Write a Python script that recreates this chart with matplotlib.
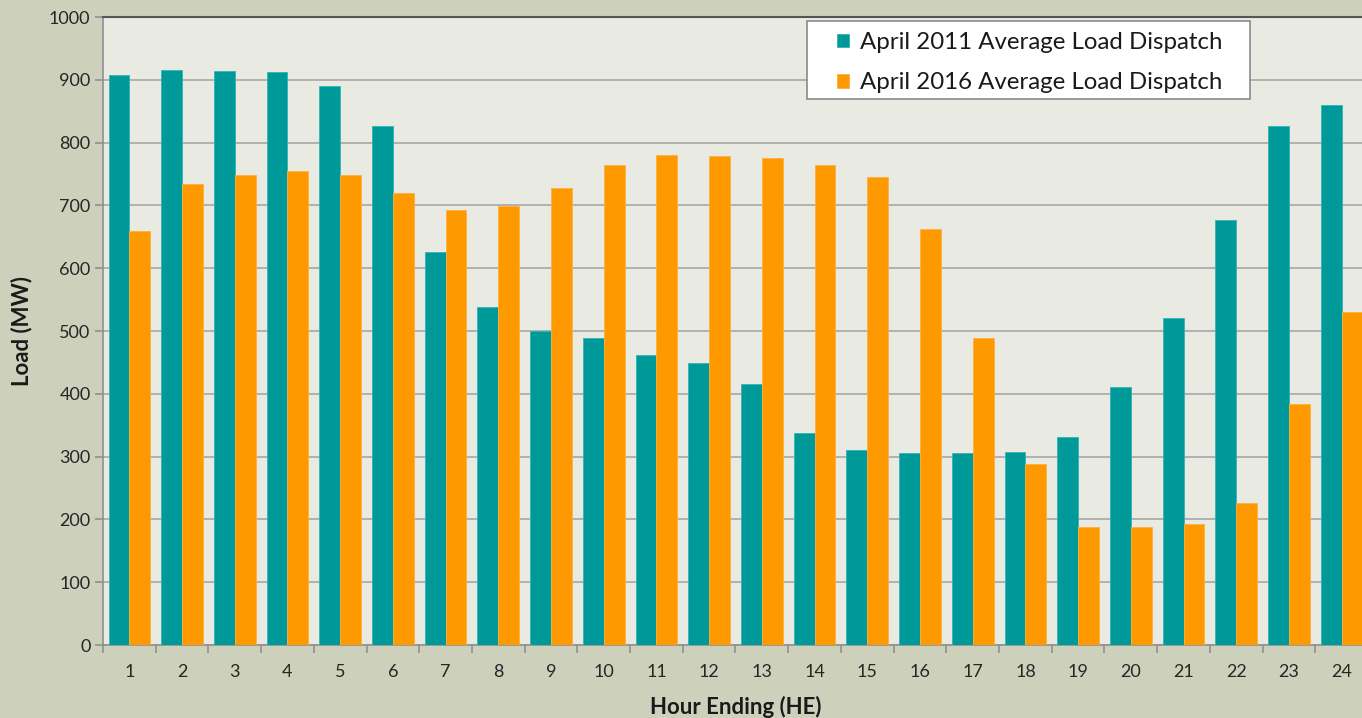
import matplotlib
matplotlib.use("Agg")
import matplotlib.pyplot as plt
import matplotlib.patches as mpatches
import numpy as np

hours = [str(h) for h in range(1, 25)]
load_2011 = [907, 915, 914, 912, 890, 826, 626, 538, 500, 489, 462, 449,
             416, 338, 311, 306, 306, 307, 331, 411, 521, 677, 826, 860]
load_2016 = [659, 734, 748, 755, 748, 720, 693, 699, 728, 764, 780, 779,
             775, 764, 745, 662, 489, 288, 188, 188, 193, 226, 384, 530]
label_2011 = "April 2011 Average Load Dispatch"
label_2016 = "April 2016 Average Load Dispatch"

plt.rcParams['font.family'] = ['Lato', 'DejaVu Sans']

W, H = 1362, 718
fig = plt.figure(figsize=(W / 100, H / 100), dpi=100)
fig.patch.set_facecolor('#cdd1bb')
ax = fig.add_axes([103 / W, 1 - 645 / H, 1265 / W, 628 / H])
ax.set_facecolor('#e9eae2')

x = np.arange(len(hours))
bw = 0.395
ax.bar(x - bw / 2, load_2011, width=bw, color='#009999', edgecolor='#33b3b3',
       linewidth=0.6, label=label_2011, zorder=3)
ax.bar(x + bw / 2, load_2016, width=bw, color='#ff9900', edgecolor='#ffb040',
       linewidth=0.6, label=label_2016, zorder=3)

ax.set_xlim(-0.5, len(hours) - 0.5)
ax.set_ylim(0, 1000)
ax.set_yticks(np.arange(0, 1001, 100))
ax.yaxis.grid(True, color='#a8a8a8', linewidth=1.2, zorder=0)
ax.set_xticks(x)
ax.set_xticklabels(hours)
ax.set_xticks(np.arange(-0.5, len(hours), 1), minor=True)
ax.tick_params(axis='x', which='major', length=0, pad=14, labelsize=13, labelcolor='#262626')
ax.tick_params(axis='x', which='minor', length=6, width=1.2, color='#909090')
ax.tick_params(axis='y', length=6, width=1.2, color='#909090', labelsize=13,
               labelcolor='#262626', pad=3)

for s in ['left', 'bottom']:
    ax.spines[s].set_color('#909090')
    ax.spines[s].set_linewidth(1.2)
ax.spines['top'].set_color('#555555')
ax.spines['top'].set_linewidth(1.5)
ax.spines['right'].set_visible(False)

ax.set_ylabel('Load (MW)', fontsize=16, fontweight='bold', color='#1a1a1a', labelpad=12)
ax.set_xlabel('Hour Ending (HE)', fontsize=16, fontweight='bold', color='#1a1a1a', labelpad=11)

# legend frame drawn as a separate box with a soft shadow
bx0, by0, bx1, by1 = 807, 21, 1250, 99
frame = mpatches.Rectangle((bx0 / W, 1 - by1 / H), (bx1 - bx0) / W, (by1 - by0) / H,
                           transform=fig.transFigure, facecolor='white',
                           edgecolor='#8a8a8a', linewidth=1.2, zorder=5, clip_on=False)
shadow = mpatches.Shadow(frame, 3, -3, alpha=0.45)
shadow.set_facecolor('#6a6a6a')
shadow.set_zorder(4.9)
shadow.set_clip_on(False)
ax.add_artist(shadow)
ax.add_artist(frame)

leg = ax.legend(loc='upper left', bbox_to_anchor=((837 - 103) / 1265, (645 - 32) / 628),
                borderaxespad=0, frameon=False,
                fontsize=17.3, handlelength=0.5, handleheight=0.5, handletextpad=0.45,
                borderpad=0.0, labelspacing=0.8)
leg.set_zorder(6)
for t in leg.get_texts():
    t.set_color('#1a1a1a')

fig.savefig('out.png', dpi=100, facecolor=fig.get_facecolor())
